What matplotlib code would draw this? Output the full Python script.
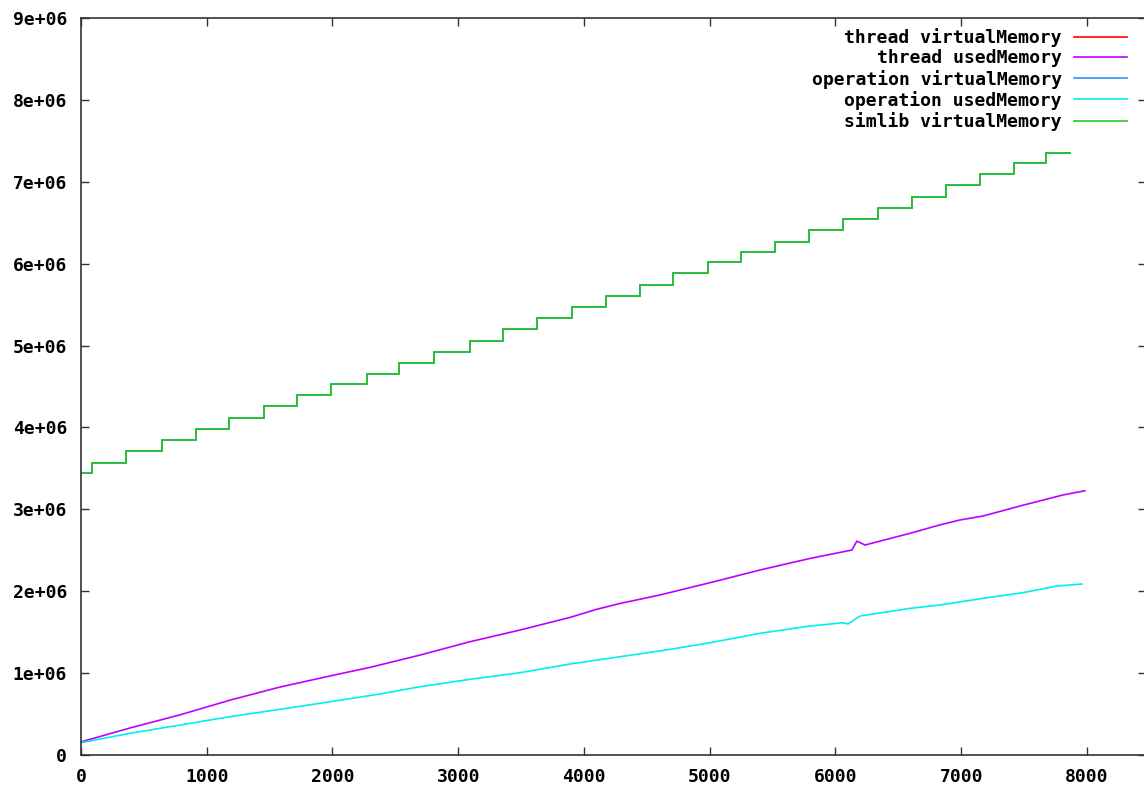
import matplotlib
matplotlib.use("Agg")
import matplotlib.pyplot as plt
from matplotlib.ticker import FuncFormatter, MultipleLocator

# simlib virtualMemory: step function (x where each level starts, level in bytes)
simlib_x = [0, 87, 358, 644, 915, 1177, 1455, 1718, 1988, 2274, 2529, 2807, 3093,
            3356, 3626, 3905, 4175, 4445, 4708, 4986, 5249, 5519, 5789, 6060,
            6338, 6608, 6879, 7149, 7419, 7674, 7865]
simlib_y = [3.44e6, 3.57e6, 3.71e6, 3.85e6, 3.98e6, 4.12e6, 4.26e6, 4.40e6, 4.53e6,
            4.65e6, 4.79e6, 4.92e6, 5.06e6, 5.20e6, 5.34e6, 5.47e6, 5.61e6, 5.74e6,
            5.88e6, 6.02e6, 6.14e6, 6.27e6, 6.41e6, 6.55e6, 6.68e6, 6.82e6, 6.96e6,
            7.09e6, 7.23e6, 7.35e6, 7.35e6]

# thread / operation virtualMemory are hidden under the simlib curve
thread_virt_x, thread_virt_y = simlib_x, simlib_y
op_virt_x, op_virt_y = simlib_x, simlib_y

thread_used_x = [0, 390, 787, 1185, 1583, 1980, 2298, 2696, 3093, 3491, 3889, 4103,
                 4286, 4604, 5002, 5400, 5797, 6131, 6171, 6235, 6592, 6831, 6990,
                 7173, 7491, 7809, 7984]
thread_used_y = [0.16e6, 0.33e6, 0.49e6, 0.67e6, 0.83e6, 0.965e6, 1.07e6, 1.22e6,
                 1.383e6, 1.526e6, 1.68e6, 1.78e6, 1.85e6, 1.954e6, 2.104e6, 2.259e6,
                 2.40e6, 2.503e6, 2.613e6, 2.564e6, 2.707e6, 2.81e6, 2.87e6, 2.918e6,
                 3.05e6, 3.175e6, 3.227e6]

op_used_x = [0, 390, 787, 1185, 1583, 1980, 2378, 2696, 3093, 3491, 3889, 4286, 4644,
             5002, 5400, 5797, 6060, 6100, 6195, 6592, 6831, 7173, 7491, 7761, 7960]
op_used_y = [0.15e6, 0.265e6, 0.366e6, 0.468e6, 0.558e6, 0.65e6, 0.745e6, 0.834e6,
             0.924e6, 1.005e6, 1.111e6, 1.2e6, 1.28e6, 1.371e6, 1.486e6, 1.575e6,
             1.615e6, 1.60e6, 1.697e6, 1.79e6, 1.832e6, 1.913e6, 1.982e6, 2.063e6,
             2.088e6]

plt.rcParams['font.family'] = ['DejaVu Sans Mono']
plt.rcParams['font.weight'] = 'bold'

W, H = 1144, 787
fig = plt.figure(figsize=(W / 100, H / 100), dpi=100)
left, right, top, bottom = 81, 1146, 18, 755
ax = fig.add_axes([left / W, 1 - bottom / H, (right - left) / W, (bottom - top) / H])

lw = 1.2
ax.step(thread_virt_x, thread_virt_y, where="post", color="#ff0000", lw=lw,
        label="thread virtualMemory")
ax.plot(thread_used_x, thread_used_y, color="#c000ff", lw=lw, label="thread usedMemory")
ax.step(op_virt_x, op_virt_y, where="post", color="#3090ff", lw=lw,
        label="operation virtualMemory")
ax.plot(op_used_x, op_used_y, color="#00eeee", lw=lw, label="operation usedMemory")
ax.step(simlib_x, simlib_y, where="post", color="#22cc22", lw=lw,
        label="simlib virtualMemory")

ax.set_xlim(0, 8470)
ax.set_ylim(0, 9e6)
ax.xaxis.set_major_locator(MultipleLocator(1000))
ax.yaxis.set_major_locator(MultipleLocator(1e6))
ax.yaxis.set_major_formatter(FuncFormatter(lambda v, p: "0" if v == 0 else "%.0e" % v))

ax.tick_params(direction="in", top=True, right=True, length=6, width=1,
               color="#333333", labelsize=13, labelcolor="black")
ax.tick_params(axis="y", pad=10)
ax.tick_params(axis="x", pad=9)
for lab in ax.get_xticklabels() + ax.get_yticklabels():
    lab.set_fontweight("bold")
for s in ax.spines.values():
    s.set_color("#333333")
    s.set_linewidth(1.2)

leg = ax.legend(loc="upper right", bbox_to_anchor=(0.982, 0.986), frameon=False,
                markerfirst=False, handlelength=2.9, handletextpad=0.7,
                labelspacing=0.12, borderaxespad=0, borderpad=0,
                prop={"size": 13, "weight": "bold"})

fig.savefig("out.png", dpi=100)
